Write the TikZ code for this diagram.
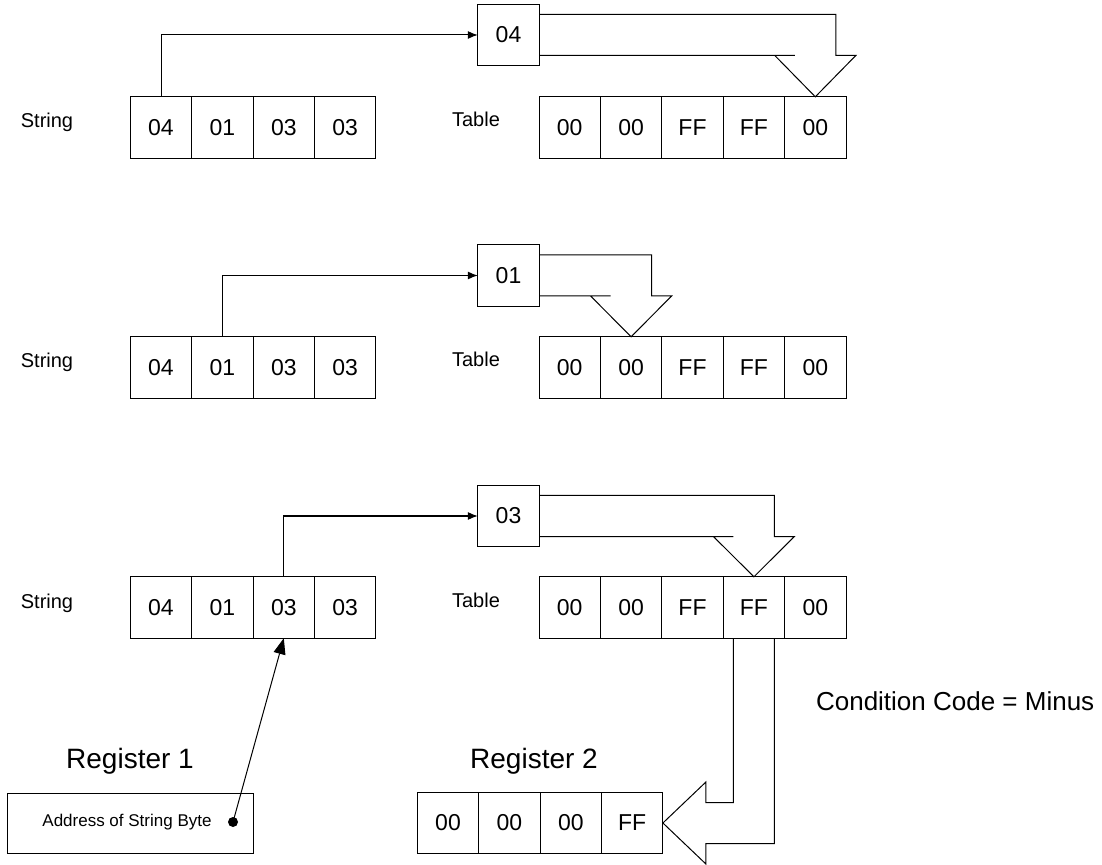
\documentclass[tikz,border=0pt]{standalone}
\usepackage{fontspec}
\setmainfont{Liberation Sans}
\usetikzlibrary{arrows.meta, positioning, calc}

\begin{document}
\begin{tikzpicture}[
    x=0.5pt, y=-0.5pt,
    cell/.style={rectangle, draw, line width=0.5pt, minimum width=30.7pt, minimum height=30.7pt, inner sep=0pt, outer sep=0pt, font=\fontsize{11.5}{13}\selectfont},
    lbl/.style={anchor=base, font=\fontsize{10}{12}\selectfont},
    reglbl/.style={anchor=base, font=\fontsize{14}{16}\selectfont},
    arr/.style={-{Latex[length=5pt, width=4pt]}, line width=0.5pt},
    ptr/.style={-{Triangle[length=8pt, width=6pt]}, line width=0.5pt},
    hollow/.style={line width=0.5pt, line join=miter},
]
    \useasboundingbox (0,0) rectangle (1102,865);

    % first step: 04 -> table entry 4
    \node[lbl] (str1) at (47,128) {String};
    \node[cell] (s11) at (161,127.5) {04};
    \node[cell, right=0pt of s11] (s12) {01};
    \node[cell, right=0pt of s12] (s13) {03};
    \node[cell, right=0pt of s13] (s14) {03};
    \node[lbl] (tab1) at (476,127) {Table};
    \node[cell] (t11) at (569.7,127.5) {00};
    \node[cell, right=0pt of t11] (t12) {00};
    \node[cell, right=0pt of t12] (t13) {FF};
    \node[cell, right=0pt of t13] (t14) {FF};
    \node[cell, right=0pt of t14] (t15) {00};
    \node[cell] (b1) at (508.5,35) {04};
    \draw[arr] (s11.north) |- (b1.west);
    \draw[hollow] let \p1=(b1.east), \p2=(t15.north) in
        (\x1,\y1+10.25pt) -- (\x2+10.25pt,\y1+10.25pt) -- (\x2+10.25pt,\y1-10.25pt) -- (\x2+20.25pt,\y1-10.25pt)
        -- (\p2) -- (\x2-20.25pt,\y1-10.25pt) -- (\x2-10.25pt,\y1-10.25pt) -- (\x1,\y1-10.25pt);

    % second step: 01 -> table entry 1
    \node[lbl] (str2) at (47,368) {String};
    \node[cell] (s21) at (161,367.5) {04};
    \node[cell, right=0pt of s21] (s22) {01};
    \node[cell, right=0pt of s22] (s23) {03};
    \node[cell, right=0pt of s23] (s24) {03};
    \node[lbl] (tab2) at (476,367) {Table};
    \node[cell] (t21) at (569.7,367.5) {00};
    \node[cell, right=0pt of t21] (t22) {00};
    \node[cell, right=0pt of t22] (t23) {FF};
    \node[cell, right=0pt of t23] (t24) {FF};
    \node[cell, right=0pt of t24] (t25) {00};
    \node[cell] (b2) at (508.5,275.5) {01};
    \draw[arr] (s22.north) |- (b2.west);
    \draw[hollow] let \p1=(b2.east), \p2=(t22.north) in
        (\x1,\y1+10.25pt) -- (\x2+10.25pt,\y1+10.25pt) -- (\x2+10.25pt,\y1-10.25pt) -- (\x2+20.25pt,\y1-10.25pt)
        -- (\p2) -- (\x2-20.25pt,\y1-10.25pt) -- (\x2-10.25pt,\y1-10.25pt) -- (\x1,\y1-10.25pt);

    % third step: 03 -> table entry 3, nonzero
    \node[lbl] (str3) at (47,608) {String};
    \node[cell] (s31) at (161,607.5) {04};
    \node[cell, right=0pt of s31] (s32) {01};
    \node[cell, right=0pt of s32] (s33) {03};
    \node[cell, right=0pt of s33] (s34) {03};
    \node[lbl] (tab3) at (476,607) {Table};
    \node[cell] (t31) at (569.7,607.5) {00};
    \node[cell, right=0pt of t31] (t32) {00};
    \node[cell, right=0pt of t32] (t33) {FF};
    \node[cell, right=0pt of t33] (t34) {FF};
    \node[cell, right=0pt of t34] (t35) {00};
    \node[cell] (b3) at (508.5,516) {03};
    \draw[arr] (s33.north) |- (b3.west);
    \draw[hollow] let \p1=(b3.east), \p2=(t34.north) in
        (\x1,\y1+10.25pt) -- (\x2+10.25pt,\y1+10.25pt) -- (\x2+10.25pt,\y1-10.25pt) -- (\x2+20.25pt,\y1-10.25pt)
        -- (\p2) -- (\x2-20.25pt,\y1-10.25pt) -- (\x2-10.25pt,\y1-10.25pt) -- (\x1,\y1-10.25pt);

    % registers
    \node[reglbl] (reg1lbl) at (130,768) {Register 1};
    \node[rectangle, draw, line width=0.5pt, minimum width=123pt, minimum height=30pt] (reg1) at (130,823) {};
    \node[font=\fontsize{8.5}{10}\selectfont] (addr) at (127,822) {Address of String Byte};
    \node[circle, fill, inner sep=0pt, minimum size=5pt] (dot) at (233,822) {};
    \draw[ptr] (dot.center) -- (s33.south);

    \node[reglbl] (reg2lbl) at (534,768) {Register 2};
    \node[cell] (r1) at (448,823) {00};
    \node[cell, right=0pt of r1] (r2) {00};
    \node[cell, right=0pt of r2] (r3) {00};
    \node[cell, right=0pt of r3] (r4) {FF};
    \draw[hollow] let \p1=(t34.south), \p2=(r4.east) in
        (\x1-10.25pt,\y1) -- (\x1-10.25pt,\y2+10.25pt) -- (\x2+21.5pt,\y2+10.25pt) -- (\x2+21.5pt,\y2+20.5pt)
        -- (\p2) -- (\x2+21.5pt,\y2-20.5pt) -- (\x2+21.5pt,\y2-10.25pt) -- (\x1+10.25pt,\y2-10.25pt) -- (\x1+10.25pt,\y1);

    \node[anchor=base west, font=\fontsize{13}{16}\selectfont] (cc) at (809,710) {Condition Code = Minus};
\end{tikzpicture}
\end{document}
